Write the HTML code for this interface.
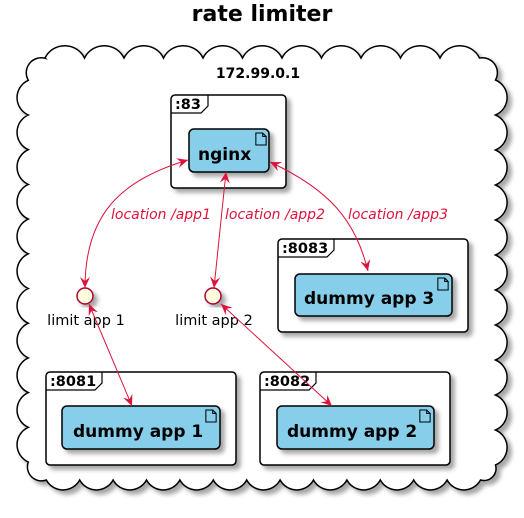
<!DOCTYPE html>
<html><head><style>body{margin:0;background:#fff}svg{display:block}</style></head><body>
<svg width="524" height="518" xmlns="http://www.w3.org/2000/svg" font-family="'DejaVu Sans', 'Liberation Sans', sans-serif">
<defs>
<filter id="sh" x="-10%" y="-10%" width="130%" height="130%"><feDropShadow dx="4" dy="4" stdDeviation="2" flood-color="#000" flood-opacity="0.35"/></filter>
<marker id="ar" viewBox="0 0 12 12" refX="11" refY="6" markerWidth="12" markerHeight="12" orient="auto-start-reverse" markerUnits="userSpaceOnUse"><path d="M0,1 L11,6 L0,11 L4,6 Z" fill="#DC143C"/></marker>
<symbol id="doc" viewBox="0 0 14 16"><path d="M1,1 H9 L13,5 V15 H1 Z M9,1 V5 H13" fill="none" stroke="#000" stroke-width="1.2"/></symbol>
</defs>
<text x="262" y="21" text-anchor="middle" font-size="22" font-weight="bold">rate limiter</text>
<path filter="url(#sh)" fill="#fff" stroke="#000" stroke-width="1.5" d="M45,58
a22 22 0 0 1 39.5 0 a22 22 0 0 1 39.5 0 a22 22 0 0 1 39.5 0 a22 22 0 0 1 39.5 0 a22 22 0 0 1 39.5 0 a22 22 0 0 1 39.5 0
a22 22 0 0 1 39.5 0 a22 22 0 0 1 39.5 0 a22 22 0 0 1 39.5 0 a22 22 0 0 1 39.5 0 a22 22 0 0 1 39.5 0
a15 15 0 0 1 16 22
a19 19 0 0 1 0 35 a19 19 0 0 1 0 35 a19 19 0 0 1 0 35 a19 19 0 0 1 0 35 a19 19 0 0 1 0 35 a19 19 0 0 1 0 35
a19 19 0 0 1 0 35 a19 19 0 0 1 0 35 a19 19 0 0 1 0 35 a19 19 0 0 1 0 35 a19 19 0 0 1 0 35
a12 12 0 0 1 -15 15
a19 19 0 0 1 -33.4 0 a19 19 0 0 1 -33.4 0 a19 19 0 0 1 -33.4 0 a19 19 0 0 1 -33.4 0 a19 19 0 0 1 -33.4 0 a19 19 0 0 1 -33.4 0 a19 19 0 0 1 -33.4 0
a19 19 0 0 1 -33.4 0 a19 19 0 0 1 -33.4 0 a19 19 0 0 1 -33.4 0 a19 19 0 0 1 -33.4 0 a19 19 0 0 1 -33.4 0 a19 19 0 0 1 -33.4 0
a14 14 0 0 1 -18 -18
a19 19 0 0 1 0 -34.7 a19 19 0 0 1 0 -34.7 a19 19 0 0 1 0 -34.7 a19 19 0 0 1 0 -34.7 a19 19 0 0 1 0 -34.7 a19 19 0 0 1 0 -34.7
a19 19 0 0 1 0 -34.7 a19 19 0 0 1 0 -34.7 a19 19 0 0 1 0 -34.7 a19 19 0 0 1 0 -34.7 a19 19 0 0 1 0 -34.7
a15 15 0 0 1 17 -22 Z"/>
<text x="258" y="78" text-anchor="middle" font-size="14" font-weight="bold">172.99.0.1</text>

<g stroke="#000" stroke-width="1.5">
<rect x="171" y="95" width="115" height="93" rx="4" fill="#fff" filter="url(#sh)"/>
<rect x="278" y="239" width="190" height="93" rx="4" fill="#fff" filter="url(#sh)"/>
<rect x="46" y="372" width="190" height="93" rx="4" fill="#fff" filter="url(#sh)"/>
<rect x="260" y="372" width="190" height="93" rx="4" fill="#fff" filter="url(#sh)"/>
<path d="M171,113 H201 L208,106 V95" fill="none" stroke-width="1.2"/>
<path d="M278,257 H327 L334,250 V239" fill="none" stroke-width="1.2"/>
<path d="M46,390 H95 L102,383 V372" fill="none" stroke-width="1.2"/>
<path d="M260,390 H309 L316,383 V372" fill="none" stroke-width="1.2"/>
</g>
<g font-size="14.5" font-weight="bold">
<text x="175" y="109">:83</text>
<text x="282" y="253">:8083</text>
<text x="50" y="386">:8081</text>
<text x="264" y="386">:8082</text>
</g>
<g fill="#87CEEB" stroke="#000" stroke-width="1.5" filter="url(#sh)">
<rect x="189" y="129" width="80" height="43" rx="5"/>
<rect x="295" y="274" width="157" height="42" rx="5"/>
<rect x="62" y="406" width="158" height="43" rx="5"/>
<rect x="277" y="406" width="157" height="43" rx="5"/>
</g>
<use href="#doc" x="255" y="132" width="12" height="14"/>
<use href="#doc" x="437" y="277" width="12" height="14"/>
<use href="#doc" x="205" y="409" width="12" height="14"/>
<use href="#doc" x="419" y="409" width="12" height="14"/>
<g font-size="17" font-weight="bold">
<text x="198" y="160">nginx</text>
<text x="304" y="304">dummy app 3</text>
<text x="73" y="437">dummy app 1</text>
<text x="287" y="437">dummy app 2</text>
</g>

<g fill="#FFFFE0" stroke="#A80036" stroke-width="1.5" filter="url(#sh)">
<circle cx="85" cy="296" r="8"/>
<circle cx="213" cy="296" r="8"/>
</g>
<g font-size="14.5">
<text x="86" y="325" text-anchor="middle">limit app 1</text>
<text x="214" y="325" text-anchor="middle">limit app 2</text>
</g>

<g stroke="#DC143C" stroke-width="1" fill="none" marker-start="url(#ar)" marker-end="url(#ar)">
<path d="M188,160 C120,180 85,215 85,288"/>
<path d="M226,172 L214,288"/>
<path d="M270,162 C330,190 355,220 368,271"/>
<path d="M89,304 L132,406"/>
<path d="M221,304 L332,406"/>
</g>
<g font-size="14" font-style="italic" fill="#DC143C">
<text x="111" y="219">location /app1</text>
<text x="225" y="219">location /app2</text>
<text x="348" y="219">location /app3</text>
</g>
</svg>
</body></html>
